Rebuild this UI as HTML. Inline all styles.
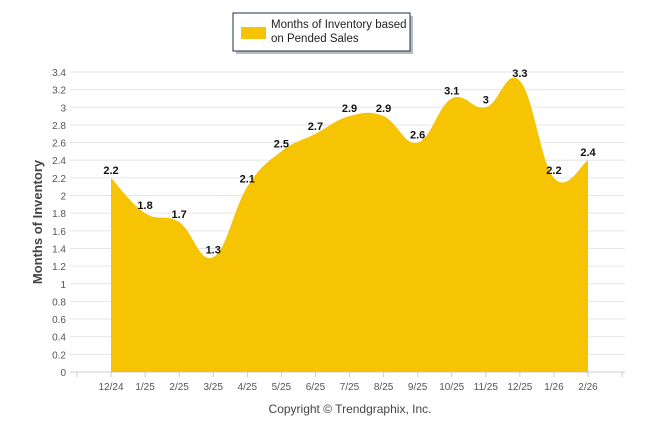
<!DOCTYPE html>
<html><head><meta charset="utf-8"><style>
body{margin:0;background:#fff;font-family:"Liberation Sans",sans-serif}
svg{display:block}
</style></head><body>
<svg width="646" height="434" id="c">
<g>
<rect x="236" y="16" width="177" height="38" fill="#bbb"/>
<rect x="233" y="13" width="177" height="38" fill="#fff" stroke="#1f2d4d" stroke-width="1"/>
<rect x="241" y="27" width="25" height="12" fill="#f7c404"/>
<text x="271" y="28" font-size="11.5" fill="#222">Months of Inventory based</text>
<text x="271" y="42" font-size="11.5" fill="#222">on Pended Sales</text>
</g>
<g id="grid"></g><g id="area"></g><g id="labels"></g>
<text x="42" y="222" font-size="13" font-weight="bold" fill="#444" transform="rotate(-90 42 222)" text-anchor="middle">Months of Inventory</text>
<text x="350" y="413" font-size="12" fill="#444" text-anchor="middle">Copyright © Trendgraphix, Inc.</text>
</svg>
<script>
const categories=["12/24","1/25","2/25","3/25","4/25","5/25","6/25","7/25","8/25","9/25","10/25","11/25","12/25","1/26","2/26"];
const values=[2.2,1.8,1.7,1.3,2.1,2.5,2.7,2.9,2.9,2.6,3.1,3.0,3.3,2.2,2.4];
const yTicks=[0,0.2,0.4,0.6,0.8,1,1.2,1.4,1.6,1.8,2,2.2,2.4,2.6,2.8,3,3.2,3.4];
const NS="http://www.w3.org/2000/svg";
const X=i=>111+i*(588-111)/14, Y=v=>372-v*(300/3.4);
function el(t,a,p){const e=document.createElementNS(NS,t);for(const k in a)e.setAttribute(k,a[k]);document.getElementById(p).appendChild(e);return e;}
yTicks.forEach(t=>{
 const l=el('line',{x1:70,x2:625,y1:Y(t),y2:Y(t),stroke:'#e6e6e6'},'grid');
 
 
 const tx=el('text',{x:66,y:Y(t)+4,'font-size':10,fill:'#555','text-anchor':'end'},'grid');tx.textContent=String(t);
 
 
});
el('line',{x1:70,x2:625,y1:372,y2:372,stroke:'#ccc'},'grid');
for(let i=0;i<=16;i++){el('line',{x1:77+i*34.07,x2:77+i*34.07,y1:372,y2:377,stroke:'#ccc'},'grid');}
categories.forEach((c,i)=>{const tx=el('text',{x:X(i),y:390,'font-size':10,fill:'#555','text-anchor':'middle'},'grid');tx.textContent=c;
 
 });
// smooth path (monotone-ish cardinal)
const pts=values.map((v,i)=>[X(i),Y(v)]);
let d=`M${pts[0][0]},372L${pts[0][0]},${pts[0][1]}`;
for(let i=0;i<pts.length-1;i++){
 const p0=pts[Math.max(i-1,0)],p1=pts[i],p2=pts[i+1],p3=pts[Math.min(i+2,pts.length-1)];
 const t=0.2;
 const c1=[p1[0]+(p2[0]-p0[0])*t,p1[1]+(p2[1]-p0[1])*t];
 const c2=[p2[0]-(p3[0]-p1[0])*t,p2[1]-(p3[1]-p1[1])*t];
 d+=`C${c1[0]},${c1[1]} ${c2[0]},${c2[1]} ${p2[0]},${p2[1]}`;
}
d+=`L${pts[pts.length-1][0]},372Z`;
const a=el('path',{d:d,fill:'#f7c404'},'area');


values.forEach((v,i)=>{const tx=el('text',{x:X(i),y:Y(v)-4,'font-size':11,'font-weight':'bold',fill:'#111','text-anchor':'middle'},'labels');tx.textContent=String(v);
 
 });
</script>
</body></html>
